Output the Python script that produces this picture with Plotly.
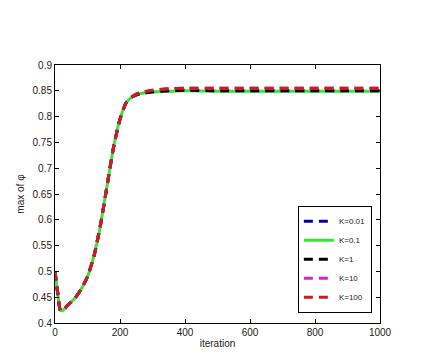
import plotly.graph_objects as go

# iteration points
iters = [0, 8, 17, 25, 40, 60, 80, 100, 120, 140, 160, 180, 200, 220, 240, 260,
         300, 350, 400, 500, 600, 700, 800, 900, 1000]

# max of phi for each K (curves coincide except for the plateau)
k001 = [0.500, 0.460, 0.424, 0.425, 0.435, 0.447, 0.465, 0.490, 0.530, 0.590, 0.665, 0.740,
        0.795, 0.828, 0.839, 0.844, 0.848, 0.850, 0.851, 0.850, 0.850, 0.850, 0.850, 0.850, 0.850]
k01 = [0.500, 0.460, 0.424, 0.425, 0.435, 0.447, 0.465, 0.490, 0.530, 0.590, 0.665, 0.740,
       0.795, 0.828, 0.839, 0.844, 0.848, 0.849, 0.850, 0.849, 0.849, 0.849, 0.849, 0.849, 0.849]
k1 = [0.500, 0.460, 0.424, 0.425, 0.435, 0.447, 0.465, 0.490, 0.530, 0.590, 0.665, 0.740,
      0.795, 0.828, 0.839, 0.844, 0.848, 0.850, 0.851, 0.850, 0.850, 0.850, 0.850, 0.850, 0.850]
k10 = [0.500, 0.460, 0.424, 0.425, 0.435, 0.447, 0.465, 0.490, 0.530, 0.590, 0.665, 0.740,
       0.795, 0.828, 0.840, 0.846, 0.851, 0.854, 0.855, 0.855, 0.855, 0.855, 0.855, 0.855, 0.855]
k100 = [0.500, 0.460, 0.424, 0.425, 0.435, 0.447, 0.465, 0.490, 0.530, 0.590, 0.665, 0.740,
        0.795, 0.828, 0.840, 0.846, 0.851, 0.854, 0.855, 0.855, 0.855, 0.855, 0.855, 0.855, 0.855]

series = [
    ("K=0.01", k001, "#0000a8", "9px,6px"),
    ("K=0.1", k01, "#33e833", "solid"),
    ("K=1", k1, "#000000", "9px,6px"),
    ("K=10", k10, "#e020c8", "9px,6px"),
    ("K=100", k100, "#c81e1e", "9px,6px"),
]

fig = go.Figure()
for name, vals, color, dash in series:
    fig.add_trace(go.Scatter(
        x=iters, y=vals, name=name, mode="lines",
        line=dict(color=color, width=3, dash=dash, shape="spline", smoothing=0.6),
    ))

axis_common = dict(
    showline=True, linecolor="black", linewidth=1, mirror="ticks",
    ticks="inside", ticklen=4, tickcolor="black",
    showgrid=False, zeroline=False,
    tickfont=dict(size=10, color="#222", family="Liberation Sans, Arial"),
)

fig.update_xaxes(range=[0, 1000], tickvals=[0, 200, 400, 600, 800, 1000],
                 title=dict(text="iteration", font=dict(size=10, color="#222"), standoff=2),
                 **axis_common)
fig.update_yaxes(range=[0.4, 0.9], dtick=0.05, tickformat="~g",
                 title=dict(text="max of φ", font=dict(size=10, color="#222"), standoff=6),
                 **axis_common)

fig.update_layout(
    width=437, height=355,
    margin=dict(l=47, r=65, t=57, b=40),
    paper_bgcolor="white", plot_bgcolor="white",
    font=dict(family="Liberation Sans, Arial", size=10, color="#222"),
    legend=dict(
        x=0.975, y=0.04, xanchor="right", yanchor="bottom",
        bgcolor="white", bordercolor="black", borderwidth=1,
        font=dict(size=8), tracegroupgap=0, itemwidth=30,
    ),
)

fig.write_html("out.html")
